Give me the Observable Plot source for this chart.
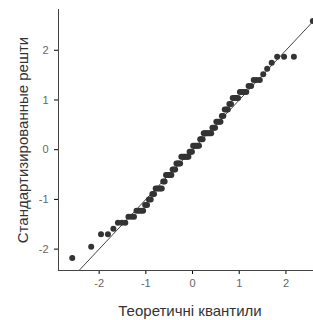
<!DOCTYPE html>
<html><head><meta charset="utf-8">
<script src="https://cdn.jsdelivr.net/npm/d3@7"></script>
<script src="https://cdn.jsdelivr.net/npm/@observablehq/plot@0.6"></script>
<style>
html,body{margin:0;padding:0;background:#fff;}
svg{font-family:"Liberation Sans",Arial,sans-serif;}
g[aria-label="x-axis tick label"] text, g[aria-label="y-axis tick label"] text{font-size:11px;fill:#666;}
g[aria-label="x-axis label"] text, g[aria-label="y-axis label"] text{font-size:15px;fill:#333;}
</style></head>
<body><div id="chart"></div>
<script>
// theoretical normal quantiles (n = 100)
const theoretical = [-2.576,-2.170,-1.960,-1.812,-1.695,-1.598,-1.514,-1.440,-1.372,-1.311,-1.254,-1.200,-1.150,-1.103,-1.058,-1.015,-0.974,-0.935,-0.896,-0.860,-0.824,-0.789,-0.755,-0.722,-0.690,-0.659,-0.628,-0.598,-0.568,-0.539,-0.510,-0.482,-0.454,-0.426,-0.399,-0.372,-0.345,-0.319,-0.292,-0.266,-0.240,-0.215,-0.189,-0.164,-0.138,-0.113,-0.088,-0.063,-0.038,-0.013,
0.013,0.038,0.063,0.088,0.113,0.138,0.164,0.189,0.215,0.240,0.266,0.292,0.319,0.345,0.372,0.399,0.426,0.454,0.482,0.510,0.539,0.568,0.598,0.628,0.659,0.690,0.722,0.755,0.789,0.824,0.860,0.896,0.935,0.974,1.015,1.058,1.103,1.150,1.200,1.254,1.311,1.372,1.440,1.514,1.598,1.695,1.812,1.960,2.170,2.576];
// sorted standardized residuals
const residuals = [-2.18,-1.95,-1.70,-1.70,-1.59,-1.47,-1.47,-1.47,-1.35,-1.35,-1.35,-1.23,-1.23,-1.23,-1.23,-1.11,-1.11,-1.00,-1.00,-0.89,-0.89,-0.78,-0.78,-0.78,-0.78,-0.78,-0.64,-0.64,-0.51,-0.51,-0.51,-0.51,-0.51,-0.40,-0.40,-0.40,-0.28,-0.28,-0.28,-0.28,-0.14,-0.14,-0.14,-0.14,-0.14,-0.14,-0.14,-0.04,-0.04,-0.04,
0.08,0.08,0.08,0.08,0.08,0.08,0.21,0.21,0.21,0.33,0.33,0.33,0.33,0.33,0.33,0.33,0.44,0.44,0.44,0.56,0.56,0.56,0.56,0.68,0.68,0.81,0.81,0.81,0.92,0.92,1.04,1.04,1.04,1.04,1.16,1.16,1.16,1.16,1.28,1.28,1.40,1.40,1.40,1.52,1.63,1.75,1.87,1.87,1.87,2.59];
const xTicks = [-2,-1,0,1,2];
const yTicks = [-2,-1,0,1,2];
const xDomain = [-2.87, 2.59];
const yDomain = [-2.43, 2.82];
const xLabel = "Теоретичні квантили";
const yLabel = "Стандартизированные решти";

const points = theoretical.map((t,i)=>({t, r: residuals[i]}));
const lo = Math.max(xDomain[0], yDomain[0]), hi = Math.min(xDomain[1], yDomain[1]);
const refLine = [lo, hi];
const fmt = d => String(d);

const chart = Plot.plot({
  width: 313, height: 320,
  marginLeft: 58, marginRight: 0, marginTop: 9, marginBottom: 50,
  x: {domain: xDomain, ticks: xTicks, tickFormat: fmt, tickSize: 4, tickPadding: 5, label: xLabel, labelAnchor: "center", labelOffset: 45, labelArrow: "none"},
  y: {domain: yDomain, ticks: yTicks, tickFormat: fmt, tickSize: 4, tickPadding: 6, label: yLabel, labelAnchor: "center", labelOffset: 41, labelArrow: "none"},
  marks: [
    Plot.ruleX([xDomain[0]], {stroke: "#444", strokeWidth: 1}),
    Plot.ruleY([yDomain[0]], {stroke: "#444", strokeWidth: 1}),
    Plot.line(refLine, {x: d=>d, y: d=>d, stroke: "#444", strokeWidth: 1}),
    Plot.dot(points, {x: "t", y: "r", r: 3, fill: "#333", stroke: "none"})
  ]
});
// strip any automatic arrows from axis labels
chart.querySelectorAll('g[aria-label="x-axis label"] text, g[aria-label="y-axis label"] text').forEach(t => {
  t.textContent = t.textContent.replace(/\s*[→←↑↓]\s*/g, "").trim();
});
chart.querySelectorAll('g[aria-label="x-axis label"] text').forEach(t => t.setAttribute("dx", "4"));
document.getElementById("chart").appendChild(chart);
</script></body></html>
